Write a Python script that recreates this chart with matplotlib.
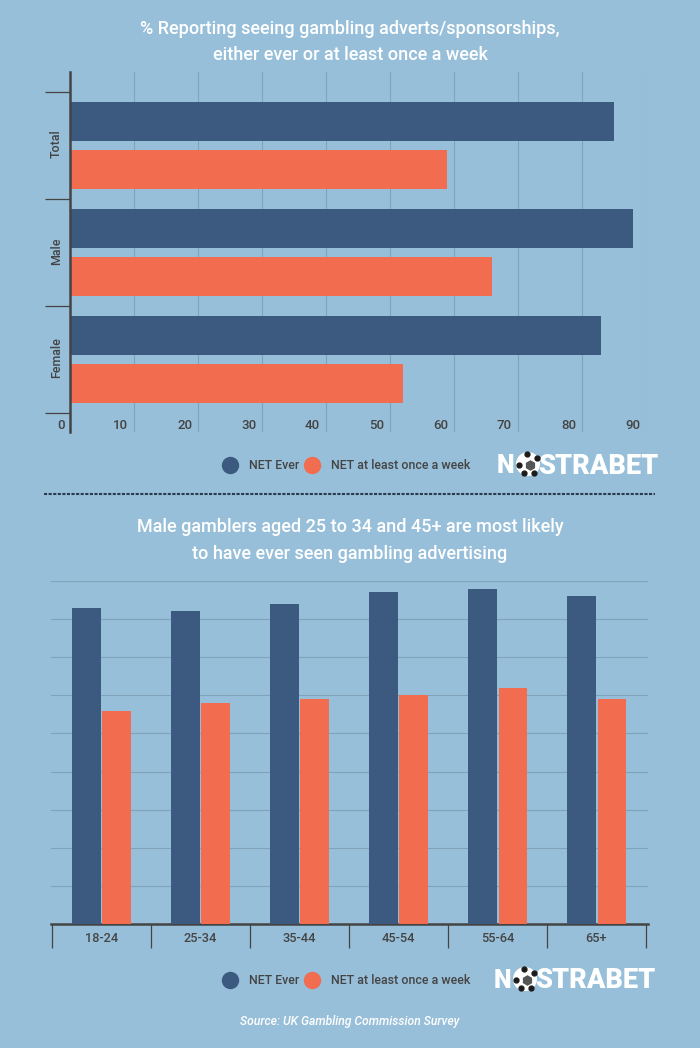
import matplotlib
matplotlib.use("Agg")
import matplotlib.pyplot as plt
import numpy as np
from matplotlib.lines import Line2D
from matplotlib.patches import Circle
from matplotlib.transforms import ScaledTranslation

# ── Data ─────────────────────────────────────────────────────────────────────

gender_labels = ["Total", "Male", "Female"]
gender_ever = [85, 88, 83]
gender_weekly = [59, 66, 52]
gender_ticks = [0, 10, 20, 30, 40, 50, 60, 70, 80, 90]

age_labels = ["18-24", "25-34", "35-44", "45-54", "55-64", "65+"]
age_ever = [83, 82, 84, 87, 88, 86]
age_weekly = [56, 58, 59, 60, 62, 59]
age_grid = [10, 20, 30, 40, 50, 60, 70, 80, 90]

series_names = ["NET Ever", "NET at least once a week"]

# ── Style ────────────────────────────────────────────────────────────────────

BG = "#97bfd9"
NAVY = "#3c5a80"
ORANGE = "#f26c4f"
INK = "#444444"
GRID = "#80a3ba"

W, H = 700, 1048
plt.rcParams["font.family"] = ["Roboto", "DejaVu Sans"]


def axes_box(left, top, right, bottom):
    """Pixel box (from top left of the image) -> figure fraction rect."""
    return [left / W, 1 - bottom / H, (right - left) / W, (bottom - top) / H]


def add_legend(fig, y_px):
    handles = [Line2D([], [], ls="", marker="o", ms=11.5, color=c) for c in (NAVY, ORANGE)]
    fig.legend(handles, series_names, ncol=2, loc="center",
               bbox_to_anchor=(344 / W, 1 - y_px / H), frameon=False,
               prop={"size": 8.9, "weight": "medium"}, labelcolor=INK, handletextpad=0.54,
               columnspacing=0.08, borderpad=0, borderaxespad=0)


def draw_logo(ov, x, y):
    """Wordmark with a football standing in for the O."""
    ov.text(x, y + 1, "N", color="white", fontsize=18, fontweight="black",
            ha="left", va="center")
    ov.text(x + 161.5, y + 1, "STRABET", color="white", fontsize=19.5, fontweight="black",
            ha="right", va="center")
    cx, cy = x + 31, y - 1
    ov.add_patch(Circle((cx, cy), 12, fc="white", ec="none", zorder=3))
    ov.plot([cx + 2], [cy + 1], marker="h", ms=6.5, color="#555555", zorder=4)
    ov.plot([cx - 1, cx - 9, cx + 9, cx - 4, cx + 6], [cy - 10, cy + 1, cy - 6, cy + 9, cy + 9],
            ls="", marker="o", ms=3.5, color="#1c1c1c", zorder=4)


fig = plt.figure(figsize=(W / 100, H / 100), dpi=100, facecolor=BG)

# ── Top chart: horizontal bars ───────────────────────────────────────────────

ax1 = fig.add_axes(axes_box(70, 72, 645.5, 432), facecolor="none")
y = np.arange(len(gender_labels))
ax1.barh(y - 0.224, gender_ever, height=0.364, color=NAVY, zorder=3)
ax1.barh(y + 0.224, gender_weekly, height=0.364, color=ORANGE, zorder=3)
ax1.set_xlim(0, 90)
ax1.set_ylim(2.675, -0.69)
for s in ("top", "right", "bottom"):
    ax1.spines[s].set_visible(False)
ax1.spines["left"].set_color(INK)
ax1.spines["left"].set_linewidth(1.8)
ax1.spines["left"].set_zorder(5)
ax1.grid(axis="x", color=GRID, lw=0.8, zorder=0)

ax1.set_yticks(np.arange(len(gender_labels) + 1) - 0.5)
ax1.set_yticklabels([])
ax1.tick_params(axis="y", which="major", length=18, width=0.9, color=INK)
ax1.set_yticks(y, minor=True)
ax1.set_yticklabels(gender_labels, minor=True, rotation=90, va="center",
                    fontsize=9, fontweight="medium", color=INK)
ax1.tick_params(axis="y", which="minor", length=0, pad=5)
up = ScaledTranslation(0, 2 / 100, fig.dpi_scale_trans)
for lab in ax1.get_yticklabels(minor=True):
    lab.set_transform(lab.get_transform() + up)

ax1.set_xticks(gender_ticks)
ax1.set_xticklabels(gender_ticks, fontsize=9.5, fontweight="medium", color=INK, ha="right")
ax1.tick_params(axis="x", length=0, pad=-9.5)
shift = ScaledTranslation(-5.5 / 100, 0, fig.dpi_scale_trans)
for lab in ax1.get_xticklabels():
    lab.set_transform(lab.get_transform() + shift)

add_legend(fig, 466)

# ── Bottom chart: grouped columns ────────────────────────────────────────────

ax2 = fig.add_axes(axes_box(51, 581, 648, 924), facecolor="none")
x = np.arange(len(age_labels))
ax2.bar(x - 0.155, age_ever, width=0.29, color=NAVY, zorder=3)
ax2.bar(x + 0.155, age_weekly, width=0.29, color=ORANGE, zorder=3)
ax2.set_xlim(-0.51, 5.52)
ax2.set_ylim(0, 90)
for s in ("top", "right", "left"):
    ax2.spines[s].set_visible(False)
ax2.spines["bottom"].set_color(INK)
ax2.spines["bottom"].set_linewidth(1.8)
ax2.set_yticks(age_grid)
ax2.tick_params(axis="y", length=0, labelleft=False)
ax2.grid(axis="y", color=GRID, lw=0.8, zorder=0)

ax2.set_xticks(np.arange(len(age_labels) + 1) - 0.5)
ax2.set_xticklabels([])
ax2.tick_params(axis="x", which="major", length=17, width=0.9, color=INK)
ax2.set_xticks(x, minor=True)
ax2.set_xticklabels(age_labels, minor=True, fontsize=9.2, color=INK, fontweight="medium")
ax2.tick_params(axis="x", which="minor", length=0, pad=6)

add_legend(fig, 981)

# ── Titles, divider, logos, source ───────────────────────────────────────────

ov = fig.add_axes([0, 0, 1, 1], facecolor="none")
ov.set_xlim(0, W)
ov.set_ylim(H, 0)
ov.axis("off")

ov.text(350, 29.5, "% Reporting seeing gambling adverts/sponsorships,", color="white",
        fontsize=13, fontweight="medium", ha="center", va="center")
ov.text(350, 55.5, "either ever or at least once a week", color="white",
        fontsize=13, fontweight="medium", ha="center", va="center")
ov.text(350, 527, "Male gamblers aged 25 to 34 and 45+ are most likely", color="white",
        fontsize=13, fontweight="medium", ha="center", va="center")
ov.text(350, 554, "to have ever seen gambling advertising", color="white",
        fontsize=13, fontweight="medium", ha="center", va="center")
ov.plot([44, 655], [494, 494], color="#2b3a4d", lw=1.5, ls=(0, (1.5, 0.7)))
draw_logo(ov, 497, 465)
draw_logo(ov, 494, 980)
ov.text(350, 1022, "Source: UK Gambling Commission Survey", color="white", fontsize=8.7,
        fontstyle="italic", fontweight="medium", ha="center", va="center")

fig.savefig("out.png", dpi=100, facecolor=BG)
